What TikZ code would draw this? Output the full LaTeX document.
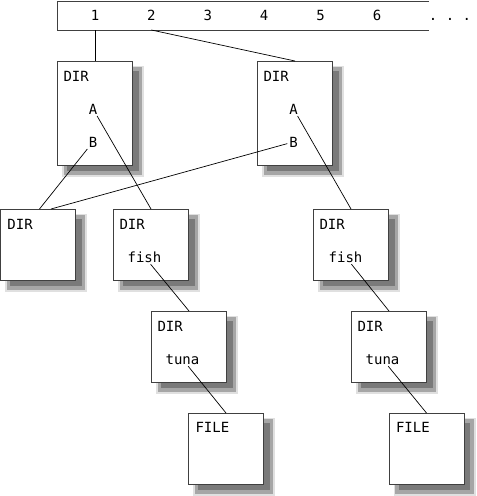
\documentclass[tikz,border=0pt]{standalone}
\usepackage{fontspec}
\setmonofont{DejaVu Sans Mono}
\usepackage{tikz}
\usetikzlibrary{positioning, shadows}

\begin{document}
\begin{tikzpicture}[
  x=1pt, y=-1pt,
  every node/.style={font=\ttfamily\fontsize{14}{16}\selectfont, outer sep=0pt},
  dirbox/.style={draw=black!75, fill=white, line width=0.8pt, minimum width=75pt, minimum height=71pt, inner sep=0pt,
    general shadow={shadow xshift=8pt, shadow yshift=-8pt, fill=black!25, draw=black!12, line width=7pt},
    general shadow={shadow xshift=8pt, shadow yshift=-8pt, fill=black!52, draw=black!35, line width=3.5pt}},
  topbox/.style={dirbox, minimum height=104pt},
  cell/.style={minimum height=29pt, text height=10pt, text depth=0pt, inner sep=0pt},
  lbl/.style={inner sep=2pt, anchor=base},
  tag/.style={inner sep=0pt, anchor=base west},
  link/.style={line width=0.7pt}
]
\useasboundingbox (0,0) rectangle (477,496);

\draw[draw=black!75, line width=0.8pt] (429,1) -| (57,30) -- (429,30);
\foreach \i in {1,...,6}
  \node[cell] (n\i) at ({95+(\i-1)*56.4},15.5) {\i};
\node[cell] (dots) at (450,15.5) {. . .};

\node[topbox] (d1) at (95,113) {};
\node[topbox, right=125pt of d1] (d2) {};
\node[dirbox, below=44pt of d1, xshift=56pt] (d4) {};
\node[dirbox, left=38pt of d4] (d3) {};
\node[dirbox, below=31pt of d4, xshift=38pt] (d6) {};
\node[dirbox, below=31pt of d6, xshift=37pt] (f1) {};
\node[dirbox, below=44pt of d2, xshift=56pt] (d5) {};
\node[dirbox, below=31pt of d5, xshift=38pt] (d7) {};
\node[dirbox, below=31pt of d7, xshift=37.5pt] (f2) {};

\node[tag] (t1) at ([shift={(6pt,-20pt)}]d1.north west) {DIR};
\node[tag] (t2) at ([shift={(6pt,-20pt)}]d2.north west) {DIR};
\node[tag] (t3) at ([shift={(7pt,-20pt)}]d3.north west) {DIR};
\node[tag] (t4) at ([shift={(6pt,-20pt)}]d4.north west) {DIR};
\node[tag] (t5) at ([shift={(6pt,-20pt)}]d5.north west) {DIR};
\node[tag] (t6) at ([shift={(6pt,-20pt)}]d6.north west) {DIR};
\node[tag] (t7) at ([shift={(6pt,-20pt)}]d7.north west) {DIR};
\node[tag] (t8) at ([shift={(7pt,-19pt)}]f1.north west) {FILE};
\node[tag] (t9) at ([shift={(7pt,-19pt)}]f2.north west) {FILE};

\node[lbl] (a1) at ([shift={(-2pt,-53pt)}]d1.north) {A};
\node[lbl] (b1) at ([shift={(-2pt,-86pt)}]d1.north) {B};
\node[lbl] (a2) at ([shift={(-1.5pt,-53pt)}]d2.north) {A};
\node[lbl] (b2) at ([shift={(-1.5pt,-86pt)}]d2.north) {B};
\node[lbl] (fish1) at ([shift={(31pt,-53pt)}]d4.north west) {fish};
\node[lbl] (fish2) at ([shift={(32pt,-53pt)}]d5.north west) {fish};
\node[lbl] (tuna1) at ([shift={(31pt,-53pt)}]d6.north west) {tuna};
\node[lbl] (tuna2) at ([shift={(31pt,-53pt)}]d7.north west) {tuna};

\draw[link] (n1.south) -- (n1.south |- d1.north);
\draw[link] (n2.south) -- (d2.north);
\draw[link] (a1) -- (d4.north);
\draw[link] (b1) -- ([xshift=1.5pt]d3.north);
\draw[link] (b2) -- ([xshift=13pt]d3.north);
\draw[link] (a2) -- (d5.north);
\draw[link] (fish1) -- (d6.north);
\draw[link] (fish2) -- (d7.north);
\draw[link] (tuna1) -- (f1.north);
\draw[link] (tuna2) -- (f2.north);
\end{tikzpicture}
\end{document}
